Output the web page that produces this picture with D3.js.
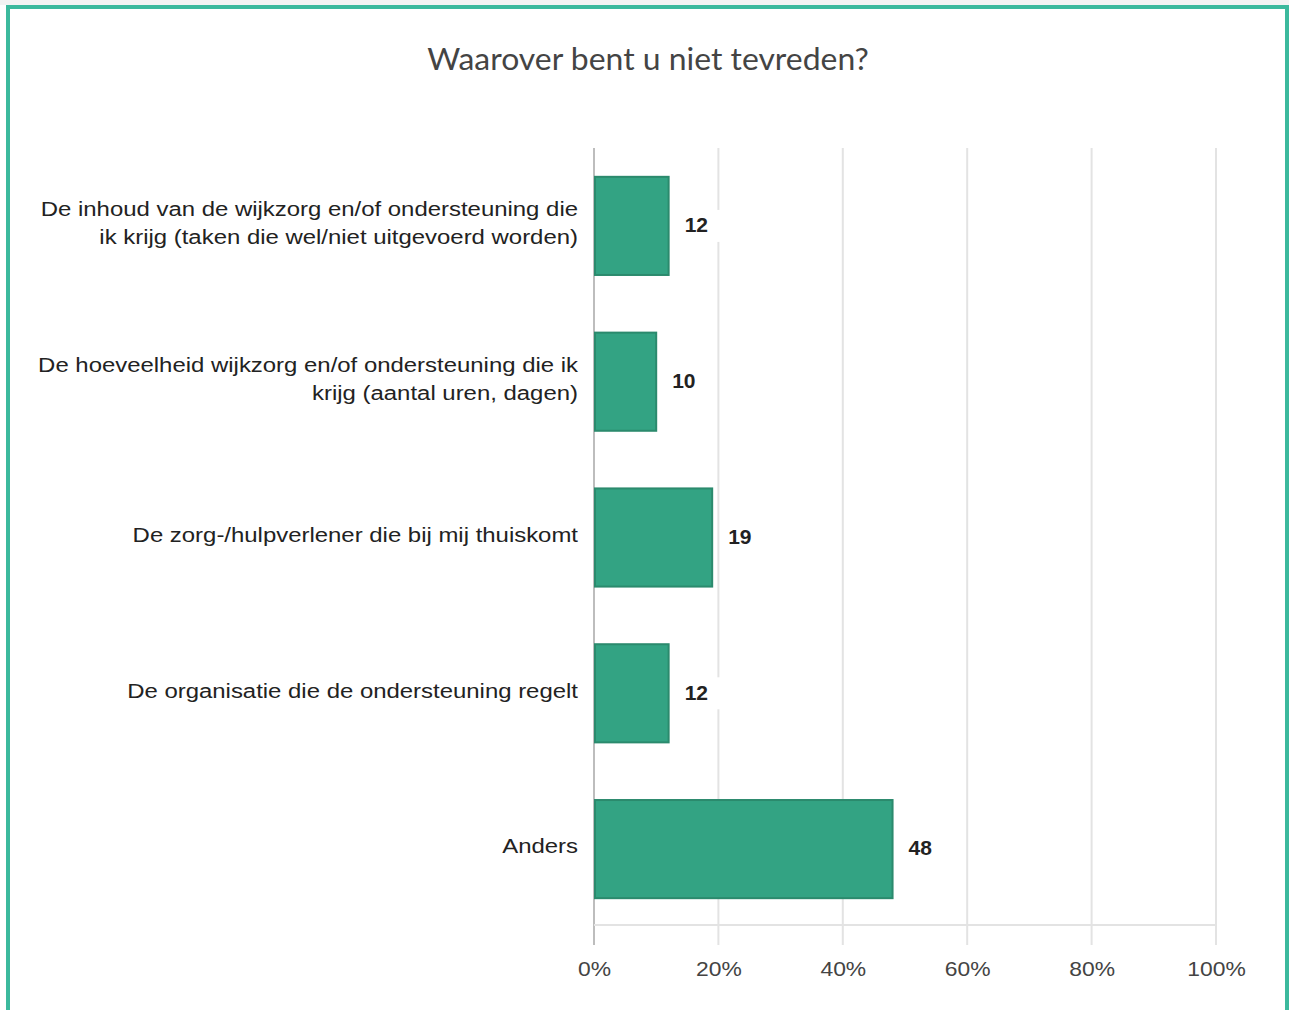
<!DOCTYPE html>
<html>
<head>
<meta charset="utf-8">
<script src="https://cdn.jsdelivr.net/npm/d3@7"></script>
<style>
  body { margin: 0; background: #fff; }
  svg { display: block; }
</style>
</head>
<body>
<div id="chart"></div>
<script>
// antwoorden en percentages
var categorieen = [
  "De inhoud van de wijkzorg en/of ondersteuning die|ik krijg (taken die wel/niet uitgevoerd worden)",
  "De hoeveelheid wijkzorg en/of ondersteuning die ik|krijg (aantal uren, dagen)",
  "De zorg-/hulpverlener die bij mij thuiskomt",
  "De organisatie die de ondersteuning regelt",
  "Anders"
];
var waarden = [12, 10, 19, 12, 48];
var ticks = [0, 20, 40, 60, 80, 100];
var titel = "Waarover bent u niet tevreden?";

var W = 1289, H = 1010;
var x0 = 594, x1 = 1216, yTop = 148, yBot = 927, axisY = 925;

var svg = d3.select("#chart")
  .append("svg")
  .attr("width", W)
  .attr("height", H);

svg.append("rect").attr("x", 0).attr("y", 0).attr("width", W).attr("height", 5).attr("fill", "#f3f3f3");
// kader
svg.append("rect")
  .attr("x", 8).attr("y", 7)
  .attr("width", 1279).attr("height", 1020)
  .attr("fill", "none")
  .attr("stroke", "#3cb99d")
  .attr("stroke-width", 4);

svg.append("text")
  .attr("transform", "translate(648,70) scale(1.064,1)")
  .attr("text-anchor", "middle")
  .attr("font-family", "Lato")
  .attr("font-size", 30)
  .attr("fill", "#444")
  .text(titel);

var x = d3.scaleLinear().domain([0, 100]).range([x0, x1]);
var y = d3.scaleBand().domain(d3.range(categorieen.length)).range([yTop, yBot]).paddingInner(0.37).paddingOuter(0.185);

// rasterlijnen
svg.selectAll(".grid")
  .data(ticks)
  .enter()
  .append("line")
  .attr("x1", function(d) { return x(d); })
  .attr("x2", function(d) { return x(d); })
  .attr("y1", yTop)
  .attr("y2", axisY + 20)
  .attr("stroke", function(d) { return d == 0 ? "#bdbdbd" : "#e3e3e3"; })
  .attr("stroke-width", 2);

svg.append("line")
  .attr("x1", x(0)).attr("x2", x(100))
  .attr("y1", axisY).attr("y2", axisY)
  .attr("stroke", "#e3e3e3")
  .attr("stroke-width", 2);

var xAxis = svg.append("g")
  .attr("transform", "translate(0," + (axisY + 20) + ")")
  .call(d3.axisBottom(x).tickValues(ticks).tickSize(0).tickPadding(16).tickFormat(function(d) { return d + "%"; }));
xAxis.select(".domain").remove();
xAxis.selectAll("text")
  .attr("font-family", "Liberation Sans, Arial")
  .attr("font-size", 21)
  .attr("fill", "#444")
  .attr("transform", "scale(1.09,1)");

var g = svg.selectAll(".bar")
  .data(waarden)
  .enter()
  .append("g");

g.append("rect")
  .attr("x", x(0) + 1)
  .attr("y", function(d, i) { return y(i); })
  .attr("width", function(d) { return x(d) - x(0) - 1; })
  .attr("height", y.bandwidth())
  .attr("fill", "#33a383")
  .attr("stroke", "#2b8a6d")
  .attr("stroke-width", 2);

g.append("rect")
  .attr("x", function(d) { return x(d) + 12; })
  .attr("y", function(d, i) { return y(i) + y.bandwidth() / 2 - 16; })
  .attr("width", 40)
  .attr("height", 32)
  .attr("fill", "#fff");

g.append("text")
  .attr("x", function(d) { return x(d) + 16; })
  .attr("y", function(d, i) { return y(i) + y.bandwidth() / 2; })
  .attr("dy", "0.3em")
  .attr("font-family", "Liberation Sans, Arial")
  .attr("font-size", 21)
  .attr("font-weight", "bold")
  .attr("fill", "#222")
  .text(function(d) { return d; });

// categorie labels
var lab = svg.selectAll(".lab")
  .data(categorieen)
  .enter()
  .append("text")
  .attr("transform", function(d, i) { return "translate(578," + (y(i) + y.bandwidth() / 2 - 2) + ") scale(1.14,1)"; })
  .attr("text-anchor", "end")
  .attr("font-family", "Liberation Sans, Arial")
  .attr("font-size", 21)
  .attr("fill", "#222");

lab.each(function(d) {
  var regels = d.split("|");
  var t = d3.select(this);
  regels.forEach(function(r, k) {
    t.append("tspan")
      .attr("x", 0)
      .attr("y", (k - (regels.length - 1) / 2) * 28)
      .attr("dy", "0.3em")
      .text(r);
  });
});
</script>
</body>
</html>
